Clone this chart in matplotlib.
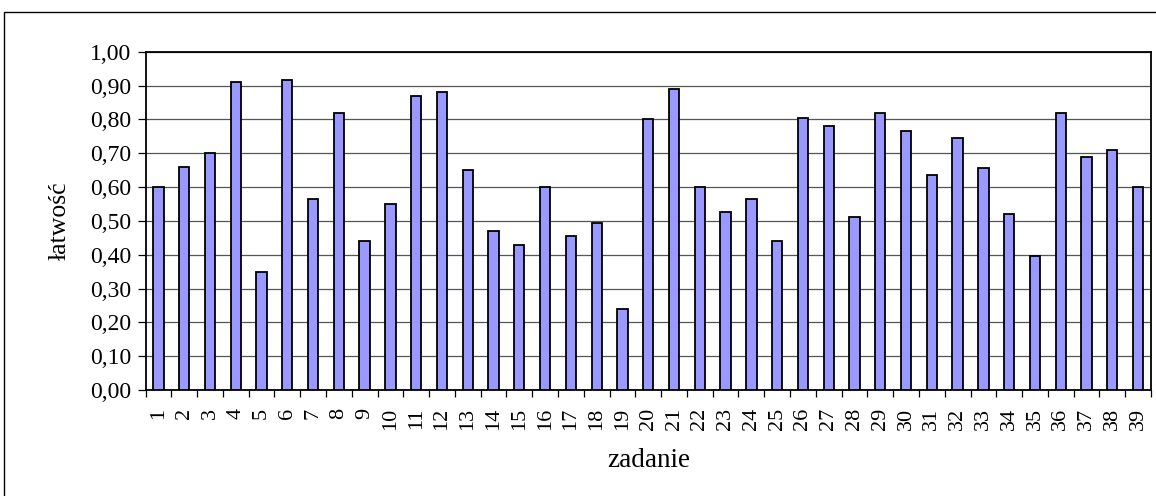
import numpy as np
import matplotlib
matplotlib.use("Agg")
import matplotlib.pyplot as plt
from matplotlib.patches import Rectangle
from matplotlib.ticker import FuncFormatter, FixedLocator

# task numbers and their easiness (łatwość)
zadania = [str(i) for i in range(1, 40)]
latwosc = [0.60, 0.66, 0.70, 0.91, 0.35, 0.915, 0.565, 0.82, 0.44, 0.55,
           0.87, 0.88, 0.65, 0.47, 0.43, 0.60, 0.455, 0.495, 0.24, 0.80,
           0.89, 0.60, 0.525, 0.565, 0.44, 0.805, 0.78, 0.51, 0.82, 0.765,
           0.635, 0.745, 0.655, 0.52, 0.395, 0.82, 0.69, 0.71, 0.60]
y_ticks = [i / 10 for i in range(11)]

plt.rcParams['font.family'] = ['Liberation Serif', 'DejaVu Serif']

fig = plt.figure(figsize=(11.56, 4.96), dpi=100)
ax = fig.add_axes([145.5 / 1156, 1 - 390 / 496, (1151 - 145.5) / 1156, (390 - 51.7) / 496])

x = np.arange(len(zadania))
ax.bar(x, latwosc, width=0.4, color='#9999FF', edgecolor='black', linewidth=1.3, zorder=3)

ax.set_xlim(-0.5, len(zadania) - 0.5)
ax.set_ylim(0, 1)
ax.set_yticks(y_ticks)
ax.yaxis.set_major_formatter(FuncFormatter(lambda v, p: f"{v:.2f}".replace('.', ',')))
ax.yaxis.grid(True, color='#555555', linewidth=0.9, zorder=0)

# category labels at centres, tick marks at boundaries
ax.set_xticks(x)
ax.set_xticklabels(zadania, rotation=90, fontsize=16)
ax.tick_params(axis='x', which='major', length=0, pad=13)
ax.xaxis.set_minor_locator(FixedLocator(np.arange(-0.5, len(zadania), 1.0)))
ax.tick_params(axis='x', which='minor', length=5, width=0.9, direction='out')
ax.tick_params(axis='y', length=6, width=0.9, direction='out', labelsize=17, pad=4)

for s in ax.spines.values():
    s.set_linewidth(1.3)
    s.set_color('black')

ax.set_ylabel('łatwość', fontsize=18.5, labelpad=14)
ax.set_xlabel('zadanie', fontsize=19.5, labelpad=13)

# outer chart area border
fig.patches.append(Rectangle((4 / 1156, -0.1), 1.2, 0.1 + 1 - 12 / 496,
                             transform=fig.transFigure, fill=False,
                             edgecolor='black', linewidth=1.0))

fig.savefig('out.png', dpi=100)
